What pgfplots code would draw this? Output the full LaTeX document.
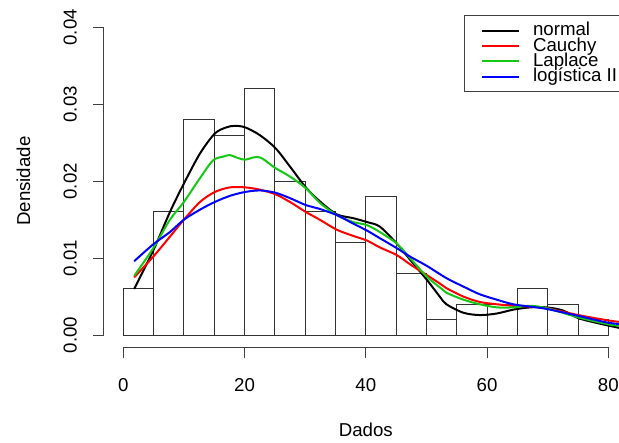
\documentclass[border=0pt]{standalone}
\usepackage{pgfplots}
\pgfplotsset{compat=1.18}
\usepackage{fontspec}
\setmainfont{Liberation Sans}
\definecolor{rgreen}{RGB}{20,200,20}
\definecolor{rred}{RGB}{255,0,0}
\definecolor{rblue}{RGB}{0,0,255}
\newcommand{\lf}{\fontsize{14}{16}\selectfont}
\begin{document}
\begin{tikzpicture}
\begin{axis}[
  scale only axis, width=392.85pt, height=249.2pt,
  at={(0,0)}, anchor=south west,
  xmin=-3.2, xmax=83.2, ymin=-0.0016, ymax=0.0416,
  axis lines*=left,
  axis line style={draw=none},
  clip=false,
  xtick={0,20,40,60,80}, xticklabels={0,20,40,60,80},
  ytick={0,0.01,0.02,0.03,0.04}, yticklabels={0.00,0.01,0.02,0.03,0.04},
  scaled y ticks=false,
  tick align=outside, major tick length=8pt,
  tick style={black!75, line width=0.75pt},
  xticklabel style={font=\lf, inner sep=0pt, anchor=center, yshift=-20.3pt},
  yticklabel style={font=\lf, inner sep=0pt, xshift=-17.2pt, rotate=90, anchor=center},
  xlabel={Dados}, ylabel={Densidade},
  xlabel style={font=\lf, at={(axis description cs:0.5,-0.2488)}, anchor=center, inner sep=0pt},
  ylabel style={font=\lf, at={(axis description cs:-0.1535,0.5)}, anchor=center, inner sep=0pt},
  legend style={at={(0.688,1)}, anchor=north west, draw=black!75, line width=0.75pt,
    inner xsep=12.5pt, inner ysep=5.85pt, font=\lf, row sep=0pt, column sep=10pt,
    nodes={inner sep=0pt, text height=9.35pt, text depth=2.05pt}},
  legend cell align=left,
  legend image code/.code={\draw[#1] (0pt,0pt) -- (27.2pt,0pt);},
]
\addplot[ybar interval, draw=black!80, fill=none, line width=0.75pt, forget plot] coordinates {
(0,0.006) (5,0.016) (10,0.028) (15,0.026) (20,0.032) (25,0.020) (30,0.016) (35,0.012)
(40,0.018) (45,0.008) (50,0.002) (55,0.004) (60,0.004) (65,0.006) (70,0.004) (75,0.002) (80,0.002)};

\addplot[black, line width=1.5pt, smooth] coordinates {
(1.8,0.0060) (4.95,0.0110) (7.7,0.0160) (10,0.0197) (12.65,0.0236) (15.1,0.0262) (17,0.0270)
(18.4,0.0272) (20.1,0.0270) (22.5,0.0260) (25.1,0.0243) (27.5,0.0219) (30.1,0.0192) (32.4,0.0174)
(35.2,0.0157) (37.9,0.0152) (40.15,0.0147) (42.3,0.0141) (45.1,0.0119) (47.3,0.0098) (50.05,0.0072)
(52.2,0.0050) (53.3,0.0040) (56.1,0.0029) (58.8,0.0026) (61.6,0.0028) (64.3,0.0033) (67.1,0.0036)
(69.8,0.0036) (72.5,0.0032) (75.05,0.0022) (78.5,0.0015) (82,0.0009) (84,0.0006)};
\addlegendentry{normal}

\addplot[rred, line width=1.5pt, smooth] coordinates {
(1.8,0.0075) (4.95,0.0102) (7.7,0.0128) (10,0.0150) (12.65,0.0173) (15.1,0.0186) (17.6,0.0192)
(20.07,0.0192) (22.55,0.0189) (25.1,0.0183) (27.5,0.0173) (30.1,0.0160) (32.4,0.0150) (35.2,0.0137)
(37.9,0.0129) (40.15,0.0123) (42.3,0.0114) (45.1,0.0104) (47.3,0.0092) (50.05,0.0078) (52.2,0.0067)
(53.3,0.0061) (56.1,0.0050) (58.8,0.0043) (61.6,0.0040) (64.3,0.0038) (67.1,0.0037) (69.8,0.0035)
(75.05,0.0026) (80,0.0019) (82,0.0017) (84,0.0015)};
\addlegendentry{Cauchy}

\addplot[rgreen, line width=1.5pt, smooth] coordinates {
(1.8,0.0077) (4.95,0.0113) (7.7,0.0150) (10,0.0173) (12.65,0.0204) (14.8,0.0227) (16.5,0.0232)
(17.6,0.0234) (18.6,0.0231) (20.07,0.0228) (21.5,0.0231) (22.5,0.0231) (23.4,0.0227) (25.1,0.0217)
(27.5,0.0206) (30.1,0.0191) (32.4,0.0172) (35.2,0.0156) (37.9,0.0147) (40.15,0.0143) (42.3,0.0134)
(45.1,0.0119) (47.3,0.0100) (50.05,0.0076) (52.2,0.0062) (53.3,0.0055) (56.1,0.0046) (58.8,0.0040)
(61.6,0.0036) (64.3,0.0036) (67.1,0.0038) (69.8,0.0035) (75.05,0.0023) (80,0.0014) (82,0.0012) (84,0.0010)};
\addlegendentry{Laplace}

\addplot[rblue, line width=1.5pt, smooth] coordinates {
(1.8,0.0096) (4.95,0.0118) (7.7,0.0134) (10,0.0150) (12.65,0.0163) (15.1,0.0173) (17.6,0.0181)
(20.07,0.0186) (22.55,0.0188) (25.1,0.0185) (27.5,0.0178) (30.1,0.0169) (32.4,0.0164) (35.2,0.0156)
(37.9,0.0145) (40.15,0.0136) (42.3,0.0126) (45.1,0.0113) (47.3,0.0102) (50.05,0.0090) (53.3,0.0074)
(56.1,0.0063) (58.8,0.0053) (61.6,0.0046) (64.3,0.0040) (67.1,0.0037) (69.8,0.0034) (75.05,0.0025)
(80,0.0016) (84,0.0013)};
\addlegendentry{logística II}

\draw[black!75, line width=0.75pt] (axis cs:0,-0.0016) -- (axis cs:80,-0.0016);
\draw[black!75, line width=0.75pt] (axis cs:-3.2,0) -- (axis cs:-3.2,0.04);
\end{axis}
\pgfresetboundingbox
\path[use as bounding box] (-77.9pt,-71.0pt) rectangle (386.3pt,260.5pt);
\end{tikzpicture}
\end{document}
